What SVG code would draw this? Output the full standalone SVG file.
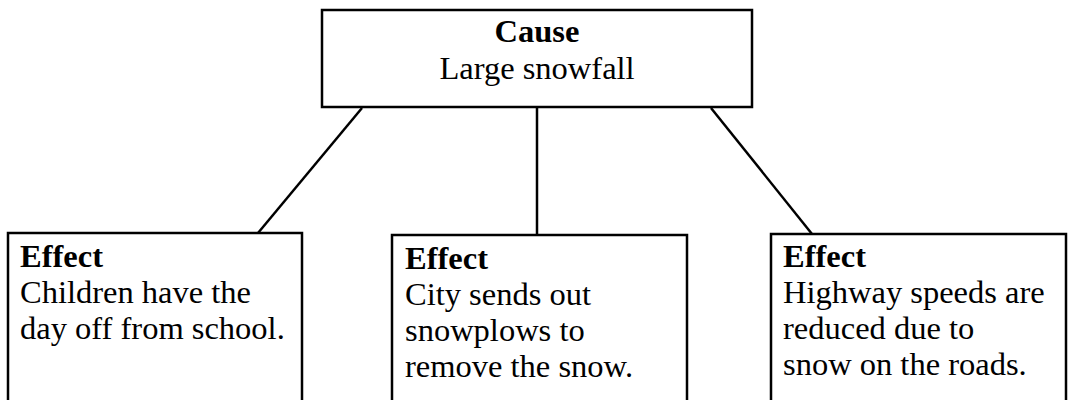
<svg xmlns="http://www.w3.org/2000/svg" width="1068" height="400" viewBox="0 0 1068 400">
<style>
.box{fill:#fff;stroke:#000;stroke-width:2.5}
.ln{stroke:#000;stroke-width:2.5;fill:none}
text{font-family:"Liberation Serif","Times New Roman",serif;font-size:32.5px;fill:#000}
.b{font-weight:bold}
</style>
<rect width="1068" height="400" fill="#fff"/>
<g id="connectors">
<line class="ln" x1="362" y1="108" x2="258" y2="233"/>
<line class="ln" x1="537" y1="108" x2="537" y2="235"/>
<line class="ln" x1="711" y1="108" x2="812" y2="234"/>
</g>
<g id="cause">
<rect class="box" x="322" y="10" width="430" height="97"/>
<text class="b" x="537" y="42" text-anchor="middle">Cause</text>
<text x="537" y="79" text-anchor="middle">Large snowfall</text>
</g>
<g id="effect1">
<rect class="box" x="8" y="233" width="294" height="180"/>
<text class="b" x="20" y="267">Effect</text>
<text x="20" y="303">Children have the</text>
<text x="20" y="339">day off from school.</text>
</g>
<g id="effect2">
<rect class="box" x="392" y="235" width="295" height="180"/>
<text class="b" x="405" y="269">Effect</text>
<text x="405" y="305">City sends out</text>
<text x="405" y="341">snowplows to</text>
<text x="405" y="377">remove the snow.</text>
</g>
<g id="effect3">
<rect class="box" x="771" y="234" width="295" height="180"/>
<text class="b" x="783" y="267">Effect</text>
<text x="783" y="303">Highway speeds are</text>
<text x="783" y="339">reduced due to</text>
<text x="783" y="375">snow on the roads.</text>
</g>
</svg>
